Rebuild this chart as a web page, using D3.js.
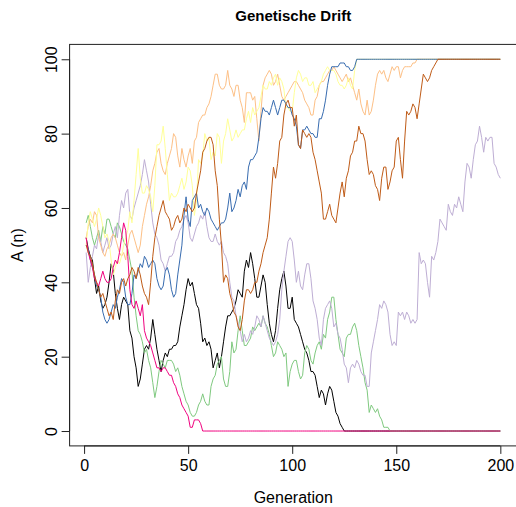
<!DOCTYPE html>
<html>
<head>
<meta charset="utf-8">
<script src="https://cdn.jsdelivr.net/npm/d3@7"></script>
<style>
  html, body { margin: 0; padding: 0; background: #fff; }
  svg { display: block; font-family: "Liberation Sans", Arial, Helvetica, sans-serif; }
</style>
</head>
<body>
<div id="chart"></div>
<script>
// Genetische Drift: 8 Populationen, A(n) ueber 200 Generationen
const title = 'Genetische Drift'
const xLabel = 'Generation'
const yLabel = 'A (n)'
const xTicks = [0, 50, 100, 150, 200]
const yTicks = [0, 20, 40, 60, 80, 100]

const generations = d3.range(1, 201)

// Werte pro Generation
const black = [
  52, 49, 47, 46, 41, 37, 39, 35, 33, 34, 36, 40, 45, 43, 37, 33, 30, 34, 36, 35,
  34, 27, 25, 20, 17, 12, 14, 18, 22, 23, 22, 25, 30, 26, 22, 19, 16, 19, 21, 20,
  22, 22, 23, 23, 24, 28, 31, 34, 38, 41, 39, 40, 37, 34, 33, 29, 24, 25, 23, 24,
  22, 17, 19, 21, 17, 20, 24, 28, 31, 31, 32, 33, 35, 38, 37, 36, 43, 46, 44, 48,
  45, 41, 36, 36, 39, 42, 40, 34, 29, 26, 24, 27, 33, 38, 41, 43, 39, 33, 33, 36,
  30, 29, 28, 26, 24, 22, 21, 19, 16, 16, 15, 12, 9, 11, 10, 7, 10, 12, 11, 8,
  5, 4, 2, 1, 0, 0, 0, 0, 0, 0, 0, 0, 0, 0, 0, 0, 0, 0, 0, 0,
  0, 0, 0, 0, 0, 0, 0, 0, 0, 0, 0, 0, 0, 0, 0, 0, 0, 0, 0, 0,
  0, 0, 0, 0, 0, 0, 0, 0, 0, 0, 0, 0, 0, 0, 0, 0, 0, 0, 0, 0,
  0, 0, 0, 0, 0, 0, 0, 0, 0, 0, 0, 0, 0, 0, 0, 0, 0, 0, 0, 0
]
const green = [
  56, 58, 55, 52, 50, 52, 54, 51, 55, 53, 57, 57, 55, 53, 52, 56, 55, 53, 51, 50,
  49, 46, 43, 36, 31, 27, 26, 24, 21, 22, 19, 17, 13, 9, 12, 16, 19, 18, 17, 19,
  19, 19, 18, 16, 17, 15, 12, 10, 8, 7, 5, 4, 4, 5, 7, 8, 10, 8, 7, 7,
  12, 14, 15, 18, 19, 20, 14, 12, 12, 16, 24, 21, 22, 27, 31, 27, 23, 23, 24, 25,
  28, 27, 28, 29, 28, 31, 29, 28, 26, 23, 20, 21, 24, 23, 22, 20, 21, 12, 16, 18,
  19, 19, 16, 14, 15, 21, 23, 22, 19, 18, 21, 23, 24, 22, 26, 25, 30, 32, 36, 36,
  30, 26, 22, 21, 20, 25, 26, 26, 28, 29, 27, 23, 20, 17, 13, 11, 5, 7, 6, 5,
  6, 4, 3, 1, 1, 1, 0, 0, 0, 0, 0, 0, 0, 0, 0, 0, 0, 0, 0, 0,
  0, 0, 0, 0, 0, 0, 0, 0, 0, 0, 0, 0, 0, 0, 0, 0, 0, 0, 0, 0,
  0, 0, 0, 0, 0, 0, 0, 0, 0, 0, 0, 0, 0, 0, 0, 0, 0, 0, 0, 0
]
const purple = [
  48, 40, 44, 47, 50, 49, 53, 51, 48, 50, 52, 49, 50, 53, 55, 52, 58, 62, 60, 64,
  65, 58, 57, 60, 62, 64, 66, 69, 73, 70, 67, 61, 56, 53, 52, 50, 46, 45, 43, 45,
  47, 47, 48, 51, 52, 54, 55, 57, 58, 56, 52, 51, 53, 55, 56, 58, 57, 59, 55, 52,
  51, 51, 53, 51, 50, 51, 48, 47, 45, 40, 36, 35, 31, 29, 27, 24, 26, 24, 25, 27,
  26, 28, 31, 30, 28, 31, 29, 27, 25, 24, 23, 24, 26, 30, 38, 43, 47, 51, 52, 51,
  46, 40, 43, 39, 38, 42, 45, 45, 41, 35, 33, 30, 25, 23, 30, 33, 34, 35, 33, 28,
  29, 26, 25, 22, 18, 17, 13, 17, 18, 17, 19, 18, 16, 15, 15, 12, 12, 21, 24, 27,
  30, 34, 33, 35, 34, 32, 26, 23, 24, 23, 32, 31, 32, 30, 32, 31, 29, 30, 29, 30,
  48, 45, 46, 45, 40, 36, 47, 46, 48, 51, 57, 56, 55, 54, 61, 59, 58, 61, 60, 63,
  61, 59, 67, 72, 71, 68, 73, 77, 78, 82, 79, 75, 79, 78, 79, 79, 72, 71, 69, 68
]
const orange = [
  52, 55, 57, 56, 59, 58, 52, 50, 48, 47, 49, 50, 52, 53, 52, 50, 48, 47, 48, 46,
  50, 53, 54, 52, 50, 48, 50, 55, 58, 61, 63, 66, 70, 72, 75, 76, 72, 70, 69, 72,
  74, 76, 80, 79, 74, 71, 76, 73, 71, 74, 76, 72, 78, 79, 83, 84, 85, 85, 87, 88,
  90, 93, 96, 96, 93, 92, 92, 93, 97, 93, 92, 90, 93, 93, 89, 87, 83, 91, 91, 91,
  89, 90, 84, 78, 86, 93, 95, 96, 97, 96, 93, 94, 96, 93, 90, 89, 90, 91, 92, 93,
  94, 94, 93, 92, 91, 89, 88, 87, 85, 85, 89, 90, 93, 94, 94, 95, 96, 97, 97, 98,
  97, 96, 95, 94, 95, 96, 94, 95, 93, 91, 89, 92, 88, 86, 85, 89, 85, 86, 89, 93,
  96, 97, 96, 97, 95, 94, 96, 98, 97, 98, 98, 95, 97, 98, 98, 98, 98, 99, 99, 100,
  100, 100, 100, 100, 100, 100, 100, 100, 100, 100, 100, 100, 100, 100, 100, 100, 100, 100, 100, 100,
  100, 100, 100, 100, 100, 100, 100, 100, 100, 100, 100, 100, 100, 100, 100, 100, 100, 100, 100, 100
]
const yellow = [
  50, 56, 59, 57, 55, 57, 60, 58, 55, 52, 53, 51, 46, 42, 44, 46, 45, 47, 50, 52,
  54, 59, 56, 62, 69, 76, 68, 64, 64, 66, 65, 63, 59, 66, 77, 77, 78, 82, 76, 69,
  62, 64, 63, 63, 64, 66, 68, 65, 67, 71, 70, 66, 58, 62, 73, 72, 74, 80, 78, 79,
  73, 75, 74, 80, 79, 72, 78, 80, 84, 81, 78, 79, 81, 79, 80, 81, 81, 84, 86, 83,
  87, 85, 86, 87, 90, 93, 92, 92, 94, 93, 95, 96, 93, 95, 94, 92, 87, 87, 86, 86,
  91, 95, 97, 96, 94, 95, 95, 93, 93, 94, 91, 92, 93, 94, 96, 97, 98, 97, 97, 97,
  96, 94, 93, 93, 92, 93, 95, 93, 92, 97, 100, 100, 100, 100, 100, 100, 100, 100, 100, 100,
  100, 100, 100, 100, 100, 100, 100, 100, 100, 100, 100, 100, 100, 100, 100, 100, 100, 100, 100, 100,
  100, 100, 100, 100, 100, 100, 100, 100, 100, 100, 100, 100, 100, 100, 100, 100, 100, 100, 100, 100,
  100, 100, 100, 100, 100, 100, 100, 100, 100, 100, 100, 100, 100, 100, 100, 100, 100, 100, 100, 100
]
const blue = [
  50, 49, 46, 44, 42, 39, 38, 36, 32, 30, 29, 30, 32, 34, 33, 36, 38, 41, 40, 36,
  34, 34, 37, 42, 41, 43, 45, 44, 47, 46, 44, 45, 46, 45, 41, 39, 38, 39, 43, 44,
  42, 38, 36, 37, 42, 46, 50, 58, 63, 57, 55, 62, 63, 64, 60, 61, 59, 58, 60, 59,
  57, 56, 55, 54, 55, 56, 56, 57, 60, 64, 59, 60, 62, 65, 63, 66, 67, 65, 71, 73,
  73, 74, 75, 79, 84, 87, 86, 86, 85, 87, 89, 87, 85, 87, 89, 89, 88, 87, 87, 85,
  84, 82, 77, 76, 81, 81, 82, 81, 80, 80, 79, 79, 84, 84, 86, 89, 93, 96, 98, 98,
  98, 98, 99, 99, 99, 98, 98, 97, 97, 98, 100, 100, 100, 100, 100, 100, 100, 100, 100, 100,
  100, 100, 100, 100, 100, 100, 100, 100, 100, 100, 100, 100, 100, 100, 100, 100, 100, 100, 100, 100,
  100, 100, 100, 100, 100, 100, 100, 100, 100, 100, 100, 100, 100, 100, 100, 100, 100, 100, 100, 100,
  100, 100, 100, 100, 100, 100, 100, 100, 100, 100, 100, 100, 100, 100, 100, 100, 100, 100, 100, 100
]
const pink = [
  52, 48, 46, 44, 41, 40, 39, 41, 43, 41, 40, 40, 41, 44, 46, 45, 48, 52, 56, 54,
  47, 38, 34, 33, 35, 33, 31, 34, 27, 25, 24, 23, 21, 19, 17, 17, 16, 17, 17, 16,
  15, 15, 13, 12, 10, 9, 7, 6, 5, 4, 1, 1, 3, 3, 3, 2, 0, 0, 0, 0,
  0, 0, 0, 0, 0, 0, 0, 0, 0, 0, 0, 0, 0, 0, 0, 0, 0, 0, 0, 0,
  0, 0, 0, 0, 0, 0, 0, 0, 0, 0, 0, 0, 0, 0, 0, 0, 0, 0, 0, 0,
  0, 0, 0, 0, 0, 0, 0, 0, 0, 0, 0, 0, 0, 0, 0, 0, 0, 0, 0, 0,
  0, 0, 0, 0, 0, 0, 0, 0, 0, 0, 0, 0, 0, 0, 0, 0, 0, 0, 0, 0,
  0, 0, 0, 0, 0, 0, 0, 0, 0, 0, 0, 0, 0, 0, 0, 0, 0, 0, 0, 0,
  0, 0, 0, 0, 0, 0, 0, 0, 0, 0, 0, 0, 0, 0, 0, 0, 0, 0, 0, 0,
  0, 0, 0, 0, 0, 0, 0, 0, 0, 0, 0, 0, 0, 0, 0, 0, 0, 0, 0, 0
]
const brown = [
  50, 48, 47, 45, 42, 40, 38, 36, 37, 35, 33, 31, 32, 30, 35, 38, 37, 40, 41, 39,
  41, 42, 44, 43, 41, 44, 42, 39, 37, 36, 34, 40, 47, 52, 55, 58, 60, 62, 59, 58,
  57, 54, 55, 57, 58, 56, 57, 60, 59, 61, 60, 59, 60, 64, 67, 70, 75, 76, 78, 79,
  79, 77, 70, 66, 57, 50, 40, 42, 41, 37, 35, 32, 31, 28, 27, 30, 35, 38, 38, 37,
  38, 40, 40, 43, 45, 48, 50, 52, 57, 64, 71, 68, 72, 78, 79, 85, 88, 89, 87, 87,
  82, 85, 77, 76, 81, 80, 79, 80, 79, 75, 73, 70, 67, 64, 57, 57, 59, 61, 58, 57,
  56, 60, 64, 67, 63, 68, 70, 74, 75, 78, 78, 82, 80, 80, 78, 73, 69, 70, 69, 66,
  65, 62, 68, 71, 71, 65, 67, 70, 71, 78, 79, 73, 68, 78, 86, 85, 86, 88, 87, 84,
  88, 92, 96, 95, 94, 95, 97, 98, 99, 100, 100, 100, 100, 100, 100, 100, 100, 100, 100, 100,
  100, 100, 100, 100, 100, 100, 100, 100, 100, 100, 100, 100, 100, 100, 100, 100, 100, 100, 100, 100
]

// Reihenfolge wie gezeichnet (schwarz zuerst, dann Accent-Palette)
const series = [black, green, purple, orange, yellow, blue, pink, brown]
const colors = ['#000000', '#7FC97F', '#BEAED4', '#FDC086', '#FFFF99', '#386CB0', '#F0027F', '#BF5B17']

const width = 516
const height = 507
const box = { left: 69.6, right: 516.9, top: 44.4, bottom: 445.9 }

const svg = d3.select('#chart').append('svg')
  .attr('width', width)
  .attr('height', height)

const x = d3.scaleLinear()
  .domain([1 - 199 * 0.04, 200 + 199 * 0.04])
  .range([box.left, box.right])

const y = d3.scaleLinear()
  .domain([-4, 104])
  .range([box.bottom, box.top])

// Linien
const line = d3.line()
  .x((d, i) => x(generations[i]))
  .y(d => y(d))

svg.append('g')
  .attr('fill', 'none')
  .attr('stroke-width', 1)
  .selectAll('path')
  .data(series)
  .join('path')
  .attr('stroke', (d, i) => colors[i])
  .attr('d', line)

// Rahmen
svg.append('rect')
  .attr('x', box.left)
  .attr('y', box.top)
  .attr('width', box.right - box.left)
  .attr('height', box.bottom - box.top)
  .attr('fill', 'none')
  .attr('stroke', '#222')
  .attr('stroke-width', 1)

// x-Achse
const xAxis = svg.append('g')
  .attr('transform', `translate(0,${box.bottom})`)
  .call(d3.axisBottom(x).tickValues(xTicks).tickSize(8).tickPadding(6).tickFormat(d3.format('d')))
xAxis.select('.domain').remove()
xAxis.append('line')
  .attr('x1', x(0)).attr('x2', x(200))
  .attr('stroke', '#222')
xAxis.selectAll('.tick line').attr('stroke', '#222')
xAxis.selectAll('.tick text')
  .attr('fill', '#000')
  .style('font-size', '16px')
  .style('font-family', '"Liberation Sans", Arial, sans-serif')

// y-Achse
const yAxis = svg.append('g')
  .attr('transform', `translate(${box.left},0)`)
  .call(d3.axisLeft(y).tickValues(yTicks).tickSize(8).tickFormat(d3.format('d')))
yAxis.select('.domain').remove()
yAxis.append('line')
  .attr('y1', y(0)).attr('y2', y(100))
  .attr('stroke', '#222')
yAxis.selectAll('.tick line').attr('stroke', '#222')
yAxis.selectAll('.tick text')
  .attr('fill', '#000')
  .attr('x', null)
  .attr('dy', null)
  .attr('text-anchor', 'middle')
  .attr('transform', 'translate(-13,0) rotate(-90)')
  .style('font-size', '16px')
  .style('font-family', '"Liberation Sans", Arial, sans-serif')

// Beschriftungen
svg.append('text')
  .attr('x', (box.left + box.right) / 2)
  .attr('y', 21)
  .attr('text-anchor', 'middle')
  .style('font-size', '15px')
  .style('font-weight', 'bold')
  .text(title)

svg.append('text')
  .attr('x', (box.left + box.right) / 2)
  .attr('y', 503)
  .attr('text-anchor', 'middle')
  .style('font-size', '16px')
  .text(xLabel)

svg.append('text')
  .attr('transform', `translate(23,${(box.top + box.bottom) / 2}) rotate(-90)`)
  .attr('text-anchor', 'middle')
  .style('font-size', '16px')
  .text(yLabel)
</script>
</body>
</html>
